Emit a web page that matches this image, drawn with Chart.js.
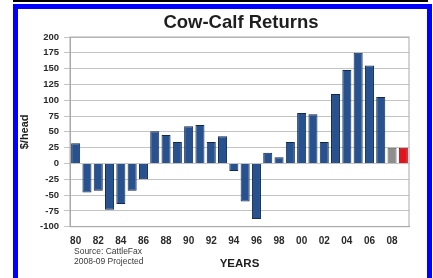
<!DOCTYPE html>
<html>
<head>
<meta charset="utf-8">
<script src="https://cdn.jsdelivr.net/npm/chart.js@4"></script>
<style>
  html, body { margin: 0; padding: 0; background: #fff; width: 433px; height: 278px; overflow: hidden; }
  #topline { position: absolute; left: 13px; top: 0; width: 415px; height: 2px; background: #000; }
  #frame { position: absolute; left: 13px; top: 4px; width: 419px; height: 280px; box-sizing: border-box; border: 5px solid #0000ff; background: #fff; }
  #c { position: absolute; left: 0; top: 0; }
</style>
</head>
<body>
<div id="topline"></div>
<div id="frame"></div>
<canvas id="c" width="433" height="278"></canvas>
<script>
const categories = ['80','81','82','83','84','85','86','87','88','89','90','91','92','93','94','95','96','97','98','99','00','01','02','03','04','05','06','07','08','09'];
const returns = [32,-46,-43,-73,-64,-43,-25,51,45,34,59,61,34,43,-12,-60,-88,17,10,34,80,78,34,110,148,175,155,105,25,25];
const tickLabels = ['80','82','84','86','88','90','92','94','96','98','00','02','04','06','08'];
const barColors = returns.map((v, i) => i === 28 ? '#8e8e8e' : (i === 29 ? '#e3141b' : '#27528f'));
const barBorders = returns.map((v, i) => i === 28 ? '#5a5a5a' : (i === 29 ? '#8a0c10' : '#12294d'));
const chartTitle = 'Cow-Calf Returns';
const noteLines = ['Source: CattleFax', '2008-09 Projected'];

const FONT = "'Liberation Sans', Arial, sans-serif";

const textPlugin = {
  id: 'texts',
  afterDraw(chart) {
    const ctx = chart.ctx;
    const a = chart.chartArea;
    ctx.save();
    ctx.strokeStyle = '#a9a9a9';
    ctx.lineWidth = 1;
    ctx.strokeRect(a.left, a.top, a.right - a.left, a.bottom - a.top);
    ctx.fillStyle = '#1e1e1e';
    ctx.font = "bold 18.5px " + FONT;
    ctx.textAlign = 'center';
    ctx.textBaseline = 'middle';
    ctx.fillText(chartTitle, 241, 23);
    ctx.font = "8.5px " + FONT;
    ctx.fillStyle = '#3a3a3a';
    ctx.textAlign = 'left';
    ctx.fillText(noteLines[0], 74, 252);
    ctx.fillText(noteLines[1], 74, 262);
    ctx.restore();
  }
};

new Chart(document.getElementById('c'), {
  type: 'bar',
  data: {
    labels: categories,
    datasets: [{
      data: returns,
      backgroundColor: barColors,
      borderColor: barBorders,
      borderWidth: 1,
      barPercentage: 0.8,
      categoryPercentage: 1.0
    }]
  },
  options: {
    responsive: false,
    animation: false,
    devicePixelRatio: 1,
    layout: { padding: { left: 0, right: 24, top: 37, bottom: 0 } },
    plugins: { legend: { display: false }, tooltip: { enabled: false }, title: { display: false } },
    scales: {
      x: {
        grid: { display: false, drawTicks: false },
        border: { display: true, color: '#a9a9a9' },
        ticks: {
          autoSkip: false,
          maxRotation: 0,
          padding: 9,
          color: '#2a2a2a',
          font: { family: FONT, size: 10, weight: 'bold' },
          callback: function(value) {
            const lab = this.getLabelForValue(value);
            return tickLabels.includes(lab) && (Number(value) % 2 === 0) ? lab : '';
          }
        },
        title: {
          display: true,
          text: 'YEARS',
          color: '#1e1e1e',
          font: { family: FONT, size: 11.5, weight: 'bold' },
          padding: { top: 0, bottom: 7 }
        },
        afterFit(scale) { scale.height = 51.3; }
      },
      y: {
        min: -100,
        max: 200,
        grid: { color: '#c4c4c4', lineWidth: 1, drawTicks: true, tickLength: 6 },
        border: { display: true, color: '#a9a9a9' },
        ticks: {
          stepSize: 25,
          padding: 5,
          color: '#2a2a2a',
          font: { family: FONT, size: 9.5, weight: 'bold' }
        },
        title: {
          display: true,
          text: '$/head',
          color: '#1e1e1e',
          font: { family: FONT, size: 11, weight: 'bold' },
          padding: { top: 18.5, bottom: 0 }
        },
        afterFit(scale) { scale.width = 70; }
      }
    }
  },
  plugins: [textPlugin]
});
</script>
</body>
</html>
